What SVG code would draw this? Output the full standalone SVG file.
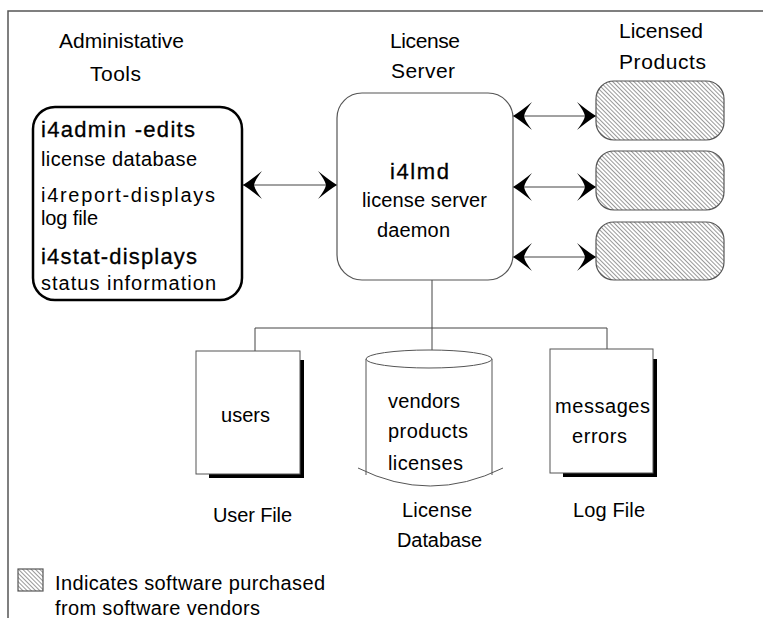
<svg xmlns="http://www.w3.org/2000/svg" width="763" height="618" viewBox="0 0 763 618">
<style>
text{font-family:"Liberation Sans",Arial,sans-serif;font-size:20px;fill:#000}
.hd{font-size:22px;stroke:#000;stroke-width:0.3}
.top{font-size:21px}
.ln{stroke:#444;stroke-width:1;fill:none}
.hat{fill:url(#hatch);stroke:#555;stroke-width:1.2}
.doc{fill:#fff;stroke:#555;stroke-width:1}
</style>
<defs>
<pattern id="hatch" patternUnits="userSpaceOnUse" width="3" height="10" patternTransform="rotate(-45)">
<rect width="3" height="10" fill="#fff"/>
<line x1="0.5" y1="0" x2="0.5" y2="10" stroke="#777" stroke-width="0.75"/>
</pattern>
<marker id="ah" markerUnits="userSpaceOnUse" orient="auto-start-reverse" viewBox="-20 -15 21 30" refX="0" refY="0" markerWidth="21" markerHeight="30">
<path d="M0,0 Q-8,-5 -19,-14 Q-12,-5 -11,0 Q-12,5 -19,14 Q-8,5 0,0 Z" fill="#000"/>
</marker>
</defs>
<g id="frame"><path d="M8,618 V11 H763" fill="none" stroke="#555" stroke-width="1.5"/></g>
<g id="labels">
<text class="top" x="59" y="48" textLength="125">Administative</text>
<text class="top" x="90" y="81" textLength="51">Tools</text>
<text class="top" x="390" y="48" textLength="70">License</text>
<text class="top" x="391" y="78" textLength="64">Server</text>
<text class="top" x="619" y="38" textLength="84">Licensed</text>
<text class="top" x="619" y="69" textLength="87">Products</text>
</g>
<g id="connectors">
<line class="ln" x1="243" y1="185" x2="337" y2="185" marker-start="url(#ah)" marker-end="url(#ah)"/>
<line class="ln" x1="513" y1="116" x2="596" y2="116" marker-start="url(#ah)" marker-end="url(#ah)"/>
<line class="ln" x1="513" y1="187" x2="596" y2="187" marker-start="url(#ah)" marker-end="url(#ah)"/>
<line class="ln" x1="513" y1="257" x2="596" y2="257" marker-start="url(#ah)" marker-end="url(#ah)"/>
<path class="ln" d="M432,280 V350 M255,351 V328 H607 V349"/>
</g>
<g id="admin-tools">
<rect x="33" y="107" width="209" height="193" rx="22" fill="#fff" stroke="#000" stroke-width="2.5"/>
<text class="hd" x="41" y="137" textLength="154">i4admin -edits</text>
<text x="41" y="166" textLength="156">license database</text>
<text x="41" y="202" textLength="174">i4report-displays</text>
<text x="41" y="225" textLength="57">log file</text>
<text class="hd" x="41" y="264" textLength="156">i4stat-displays</text>
<text x="41" y="290" textLength="175">status information</text>
</g>
<g id="license-server">
<rect x="337" y="93" width="176" height="187" rx="25" fill="#fff" stroke="#555" stroke-width="1.2"/>
<text class="hd" x="390" y="179" textLength="59">i4lmd</text>
<text x="362" y="207" textLength="125">license server</text>
<text x="377" y="237" textLength="73">daemon</text>
</g>
<g id="product-1"><rect class="hat" x="596" y="81" width="128" height="59" rx="18"/></g>
<g id="product-2"><rect class="hat" x="596" y="151" width="128" height="59" rx="18"/></g>
<g id="product-3"><rect class="hat" x="596" y="222" width="128" height="58" rx="18"/></g>
<g id="user-file">
<rect x="209" y="360" width="95" height="118" fill="#000"/>
<rect class="doc" x="196" y="351" width="104" height="123"/>
<text x="221" y="422" textLength="49">users</text>
<text x="213" y="522" textLength="79">User File</text>
</g>
<g id="license-database">
<path d="M366,359 V475 M492,359 V475" fill="none" stroke="#555" stroke-width="1"/>
<ellipse cx="429" cy="359" rx="63" ry="9" fill="#fff" stroke="#555" stroke-width="1"/>
<path d="M358,468 Q430,504 503,468" fill="none" stroke="#555" stroke-width="1"/>
<text x="388" y="408" textLength="72">vendors</text>
<text x="388" y="438" textLength="80">products</text>
<text x="388" y="470" textLength="75">licenses</text>
<text x="402" y="517" textLength="70">License</text>
<text x="397" y="547" textLength="85">Database</text>
</g>
<g id="log-file">
<rect x="563" y="359" width="94" height="118" fill="#000"/>
<rect class="doc" x="550" y="349" width="103" height="124"/>
<text x="555" y="413" textLength="95">messages</text>
<text x="572" y="443" textLength="55">errors</text>
<text x="573" y="517" textLength="72">Log File</text>
</g>
<g id="legend">
<rect class="hat" x="18" y="569" width="25" height="22" stroke-width="1"/>
<text x="55" y="590" textLength="270">Indicates software purchased</text>
<text x="55" y="615" textLength="205">from software vendors</text>
</g>
</svg>
